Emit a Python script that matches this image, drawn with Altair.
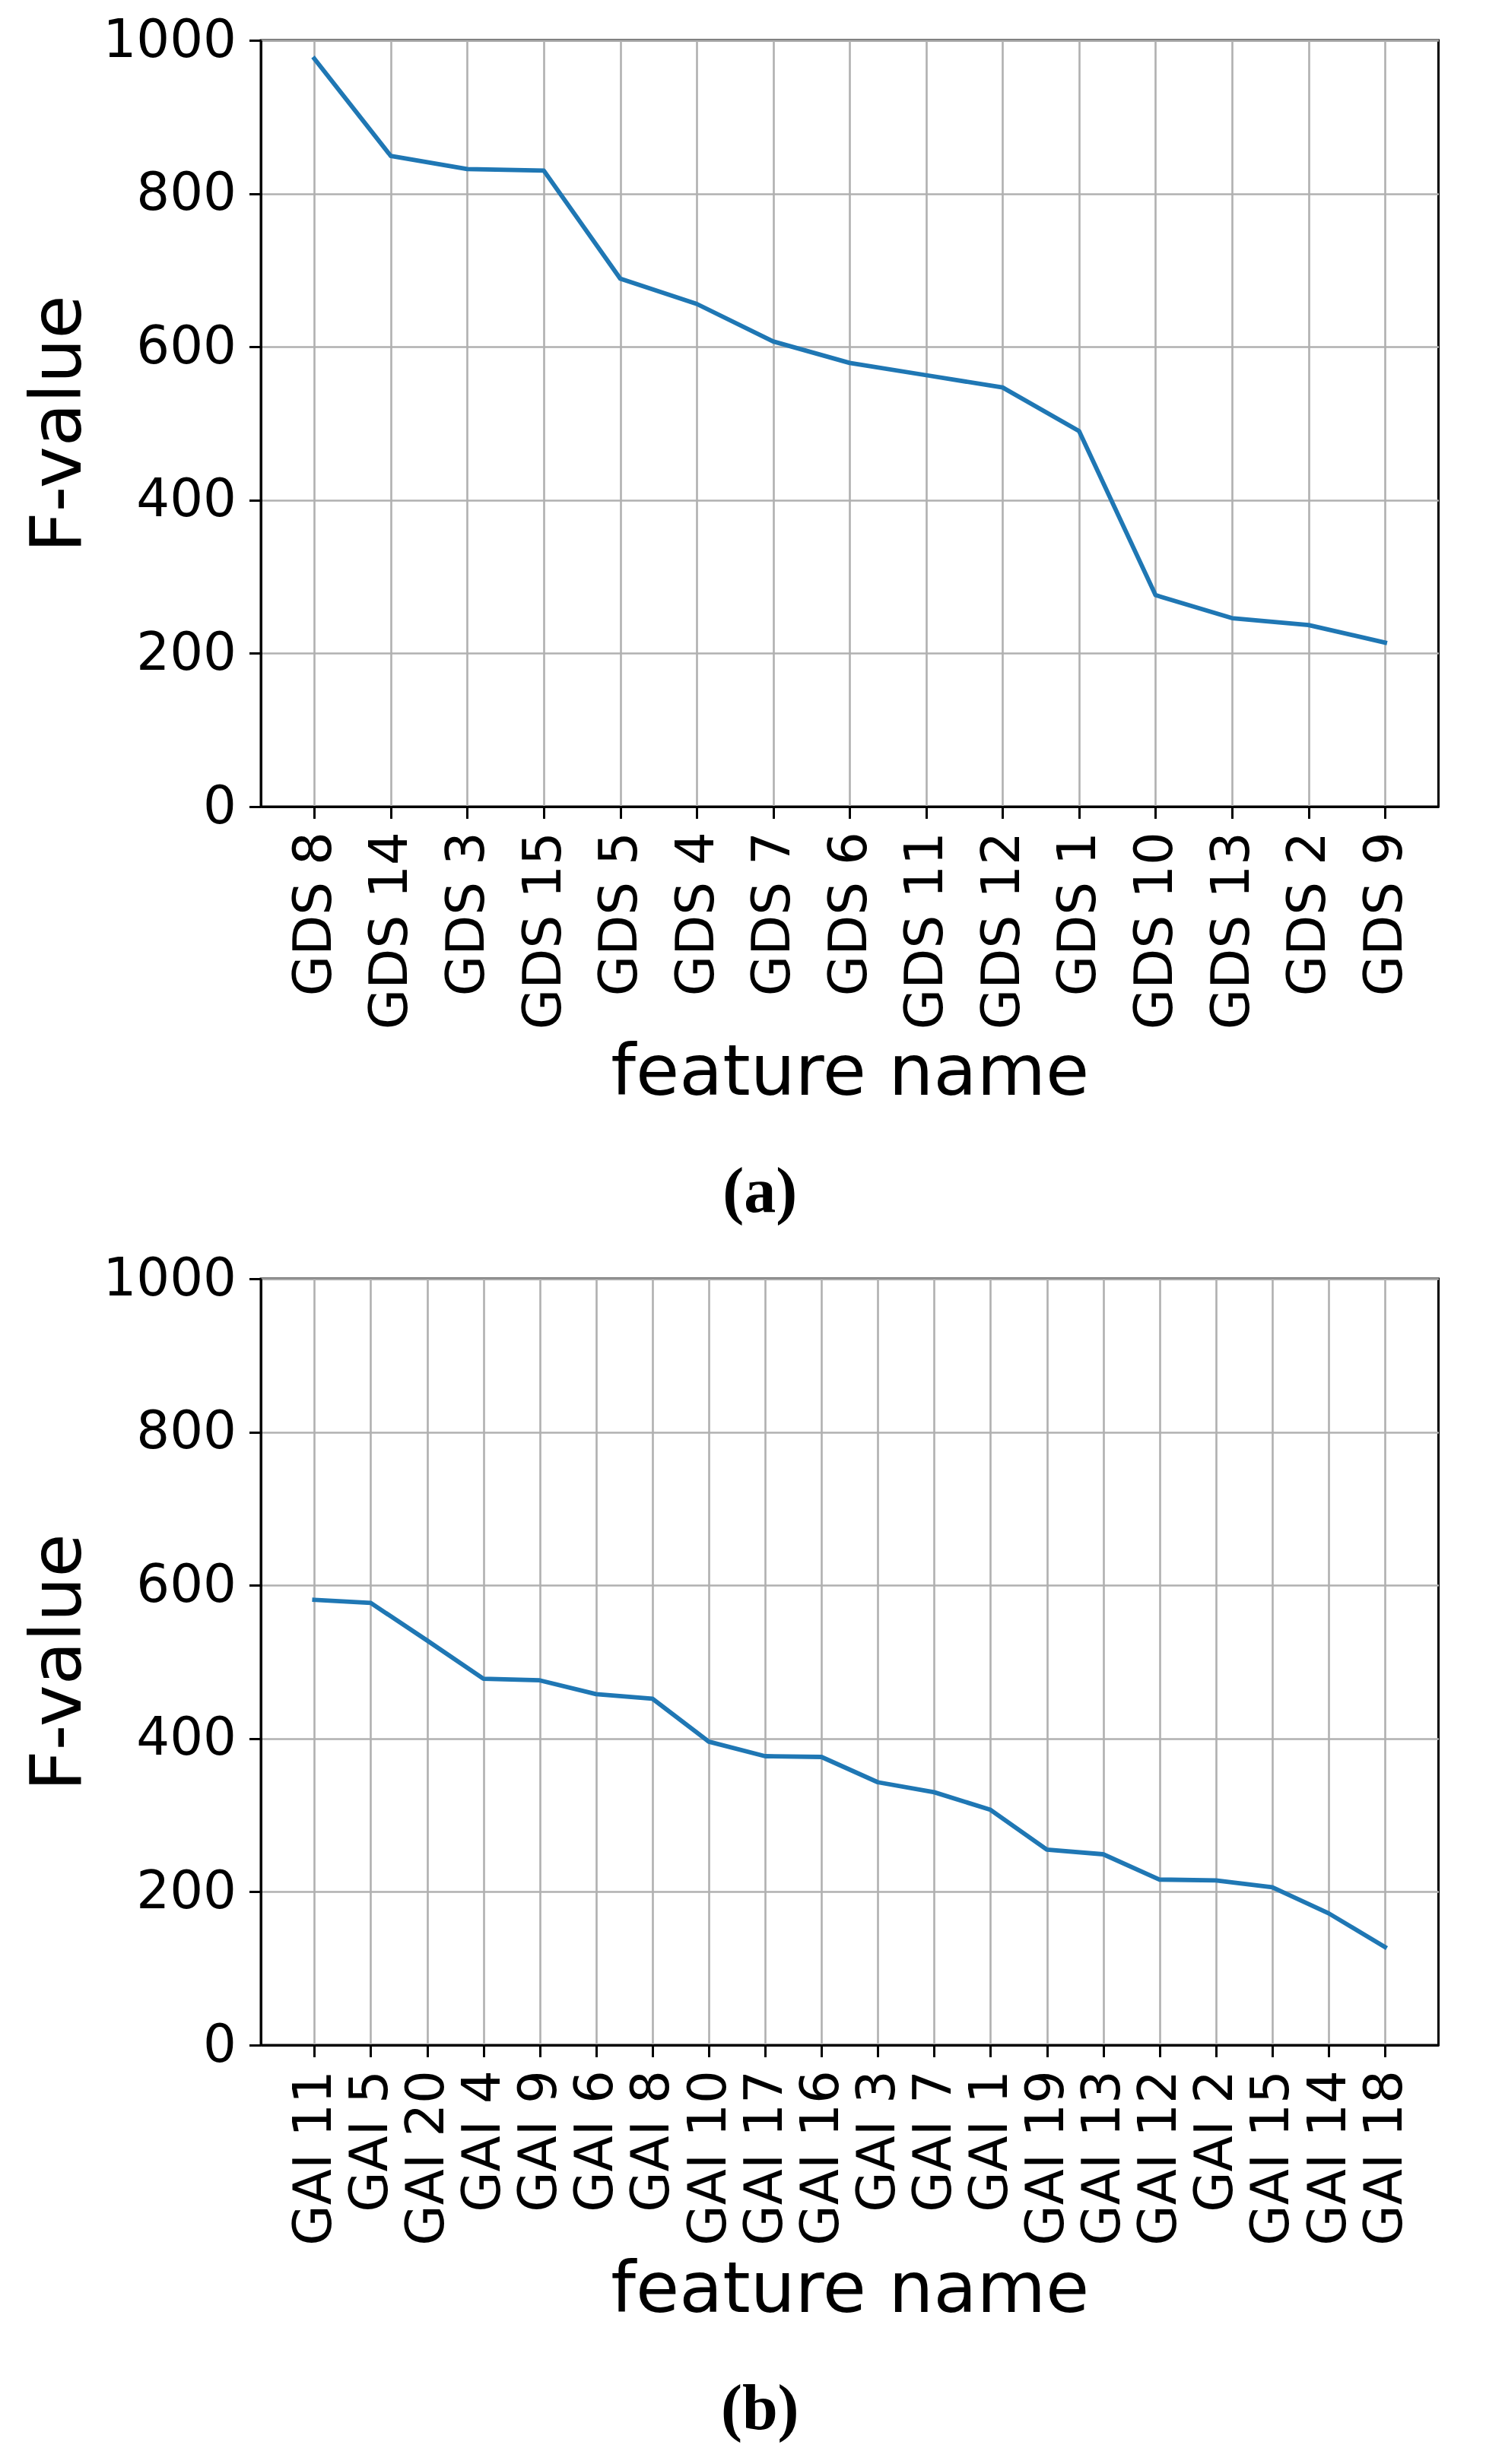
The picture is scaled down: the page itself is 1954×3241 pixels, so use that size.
import altair as alt
import pandas as pd

gds_names = ["GDS 8", "GDS 14", "GDS 3", "GDS 15", "GDS 5", "GDS 4", "GDS 7", "GDS 6",
             "GDS 11", "GDS 12", "GDS 1", "GDS 10", "GDS 13", "GDS 2", "GDS 9"]
gds_values = [976, 849, 832, 830, 689, 656, 607, 579, 563, 547, 490, 276, 246, 237, 214]

gai_names = ["GAI 11", "GAI 5", "GAI 20", "GAI 4", "GAI 9", "GAI 6", "GAI 8", "GAI 10",
             "GAI 17", "GAI 16", "GAI 3", "GAI 7", "GAI 1", "GAI 19", "GAI 13", "GAI 12",
             "GAI 2", "GAI 15", "GAI 14", "GAI 18"]
gai_values = [581, 577, 528, 478, 476, 458, 452, 396, 377, 376, 343, 330, 307, 255, 249,
              216, 215, 206, 172, 128]

y_ticks = [0, 200, 400, 600, 800, 1000]

W = 1548.5
H = 1008


def panel(names, values, caption, x_title_y):
    df = pd.DataFrame({"feature": names, "F": values, "idx": list(range(len(names)))})
    pad = 0.05 * (len(names) - 1)
    return alt.Chart(df).mark_line(
        color="#1f77b4", strokeWidth=5.8, strokeJoin="round", strokeCap="square"
    ).encode(
        x=alt.X("feature:N", sort=names,
                scale=alt.Scale(type="point", padding=pad),
                axis=alt.Axis(title="feature name", labelAngle=-90,
                              titleY=x_title_y, titleBaseline="alphabetic")),
        y=alt.Y("F:Q", scale=alt.Scale(domain=[0, 1000], nice=False, zero=True),
                axis=alt.Axis(title="F-value", values=y_ticks, format="d",
                              titleX=-238, titleY=H / 2, titleBaseline="alphabetic",
                              titleAngle=270, titleAlign="center")),
        order=alt.Order("idx:Q"),
    ).properties(
        width=W, height=H,
        title=alt.TitleParams(caption, orient="bottom", frame="group", anchor="middle",
                              font="Liberation Serif", fontWeight="bold", fontSize=84,
                              color="black", dx=-118, offset=70),
    )


chart = alt.vconcat(
    panel(gds_names, gds_values, "(a)", 378),
    panel(gai_names, gai_values, "(b)", 350),
    spacing=33,
).properties(
    padding={"left": 21, "top": 9, "right": 10, "bottom": 10},
).configure_view(
    stroke="black", strokeWidth=3
).configure_axis(
    labelFont="DejaVu Sans", labelFontSize=69, labelColor="black", labelLimit=1000,
    titleFont="DejaVu Sans", titleFontSize=93, titleFontWeight="normal", titleColor="black",
    tickColor="black", tickWidth=3, tickSize=15.5, labelPadding=17,
    domainColor="black", domainWidth=3,
    grid=True, gridColor="#b0b0b0", gridWidth=2.6, gridOpacity=1,
    labelOverlap=False, labelFlush=False,
)

chart.save("out.html", embed_options={"renderer": "svg", "actions": False})
